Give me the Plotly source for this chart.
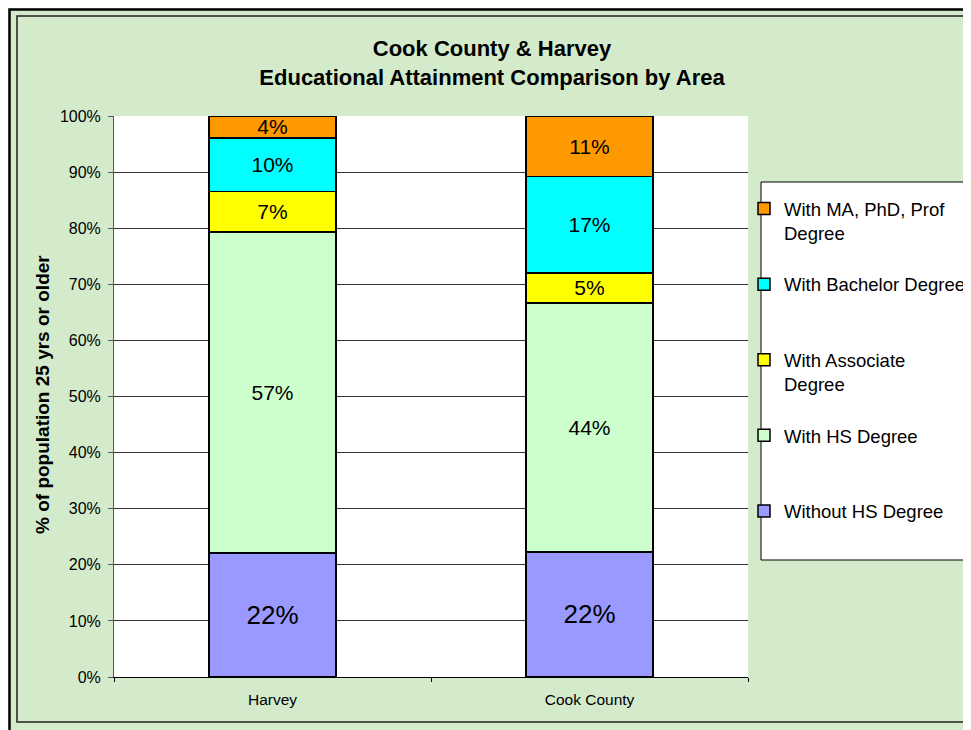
import plotly.graph_objects as go

areas = ["Harvey", "Cook County"]
without_hs = [22.1, 22.3]
with_hs = [57.2, 44.4]
with_assoc = [7.2, 5.3]
with_bach = [9.6, 17.2]
with_ma = [3.9, 10.8]

series_names = ["Without HS Degree", "With HS Degree", "With Associate<br>Degree",
                "With Bachelor Degree", "With MA, PhD, Prof<br>Degree"]
series_vals = [without_hs, with_hs, with_assoc, with_bach, with_ma]
series_colors = ["#9999FF", "#CCFFCC", "#FFFF00", "#00FFFF", "#FF9900"]
label_sizes = [26, 21, 21, 21, 21]

y_ticks = [0, 10, 20, 30, 40, 50, 60, 70, 80, 90, 100]

OFF = 8  # page body margin
W, H = 971 - OFF, 730 - OFF
L, R, T, B = 114 - OFF, 223, 116 - OFF, 53
PW, PH = W - L - R, H - T - B
FONT = "Liberation Sans, Arial, sans-serif"
GREEN = "#D3EBCB"


def px2x(sx):
    return (sx - OFF - L) / PW


def py2y(sy):
    return (H - B - (sy - OFF)) / PH


fig = go.Figure()
n = len(series_names)
for i, (name, vals, col, ls) in enumerate(zip(series_names, series_vals, series_colors, label_sizes)):
    legend_name = name if "<br>" in name else name + "<br>\u00a0"
    fig.add_trace(go.Bar(
        x=areas, y=vals, name=legend_name, legendgroup=name, legendrank=n - i,
        marker=dict(color=col, line=dict(color="black", width=1.5)),
        texttemplate="%{y:.0f}%", textposition="inside", insidetextanchor="middle",
        textangle=0, constraintext="none",
        textfont=dict(size=ls, color="black", family=FONT),
    ))

shapes = [
    # outer frame
    dict(type="rect", xref="paper", yref="paper", x0=px2x(9.5), x1=px2x(1100),
         y0=py2y(800), y1=py2y(9.5), line=dict(color="black", width=2.5), layer="above"),
    # inner frame
    dict(type="rect", xref="paper", yref="paper", x0=px2x(17), x1=px2x(1100),
         y0=py2y(722), y1=py2y(16), line=dict(color="#222222", width=1.5), layer="above"),
    # legend box
    dict(type="rect", xref="paper", yref="paper", x0=px2x(761), x1=px2x(1100),
         y0=py2y(560), y1=py2y(182), fillcolor="white", line=dict(color="black", width=1),
         layer="below"),
]

fig.update_layout(
    width=W, height=H,
    margin=dict(l=L, r=R, t=T, b=B, autoexpand=False),
    paper_bgcolor=GREEN, plot_bgcolor="white",
    barmode="stack", bargap=0.6,
    font=dict(family=FONT, color="black"),
    title=dict(text="<b>Cook County & Harvey<br>Educational Attainment Comparison by Area</b>",
               x=(492 - OFF) / W, xanchor="center", xref="container",
               y=1 - 48 / H, yanchor="middle", yref="container",
               font=dict(size=22, family=FONT, color="black")),
    showlegend=True,
    legend=dict(x=px2x(744), y=py2y(190), xanchor="left", yanchor="top",
                bgcolor="rgba(0,0,0,0)", borderwidth=0,
                font=dict(size=18.5, family=FONT, color="black"),
                traceorder="grouped", tracegroupgap=24.5, valign="top"),
    xaxis=dict(showline=True, linecolor="black", linewidth=1,
               ticks="outside", tickson="boundaries", ticklen=4, tickcolor="black",
               tickfont=dict(size=15.5, family=FONT, color="black"),
               ticklabelstandoff=8, showgrid=False, fixedrange=True),
    yaxis=dict(range=[0, 100], tickvals=y_ticks, ticktext=[f"{v}%" for v in y_ticks],
               showline=True, linecolor="#555555", linewidth=1,
               ticks="outside", ticklen=5, tickcolor="#555555",
               tickfont=dict(size=16, family=FONT, color="black"),
               ticklabelstandoff=4,
               showgrid=True, gridcolor="#333333", gridwidth=1, zeroline=False),
    shapes=shapes,
    annotations=[dict(text="<b>% of population 25 yrs or older</b>", textangle=-90,
                      xref="paper", yref="paper", x=px2x(42), y=py2y(395),
                      xanchor="center", yanchor="middle", showarrow=False,
                      font=dict(size=19, family=FONT, color="black"))],
)

fig.write_html("out.html")
